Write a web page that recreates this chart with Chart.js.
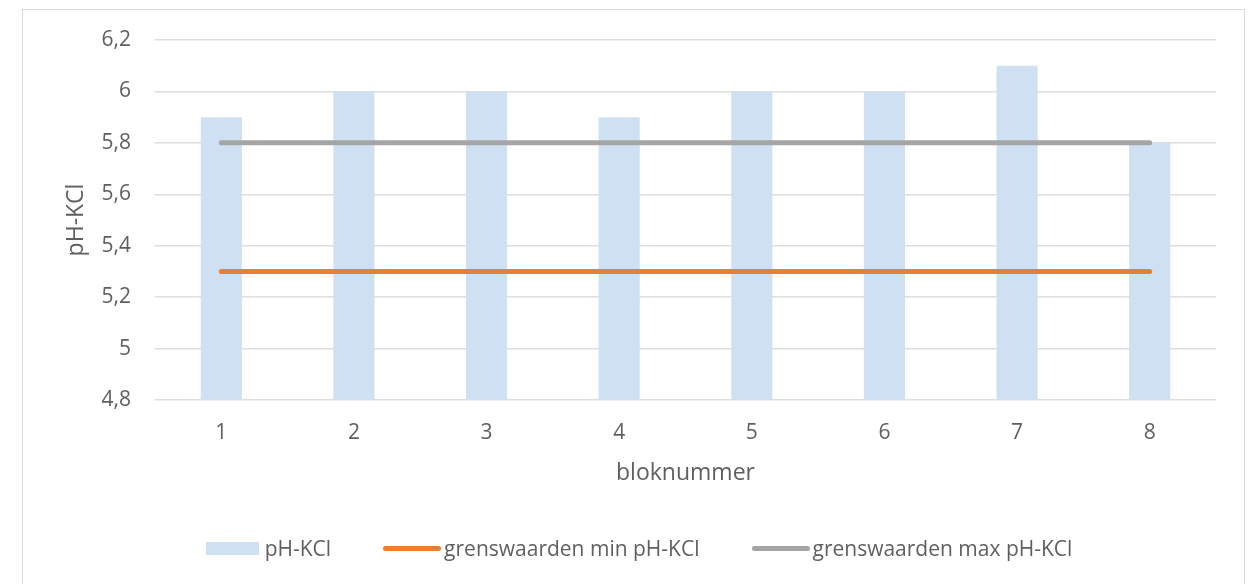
<!DOCTYPE html>
<html lang="nl">
<head>
<meta charset="utf-8">
<title>pH-KCl per bloknummer</title>
<script src="https://cdn.jsdelivr.net/npm/chart.js@4.4.1/dist/chart.umd.min.js"></script>
<style>
  html, body { margin: 0; padding: 0; background: #fff; overflow: hidden; }
  #wrap { position: relative; width: 1248px; height: 584px; }
  #frame {
    position: absolute; left: 22px; top: 9px; width: 1223px; height: 600px;
    border: 1px solid #d9d9d9; box-sizing: border-box;
  }
  #chart { position: absolute; left: 0; top: 0; }
  #legend {
    position: absolute; left: 22px; width: 1234px; top: 535px; height: 26px;
    display: flex; justify-content: center; align-items: center; gap: 52px;
    font-family: "Open Sans", sans-serif; font-size: 21px; color: #5f5f5f;
  }
  .item { display: flex; align-items: center; white-space: nowrap; }
  .swatch-box { width: 53px; height: 13px; margin-right: 6px; }
  .swatch-line { width: 58px; height: 5px; border-radius: 3px; margin-right: 3px; }
</style>
</head>
<body>
<div id="wrap">
  <div id="frame"></div>
  <canvas id="chart" width="1248" height="584"></canvas>
  <div id="legend"></div>
</div>
<script>
// Gemeten pH-KCl per blok en de grenswaarden
const bloknummers = ['1', '2', '3', '4', '5', '6', '7', '8'];
const phKcl = [5.9, 6.0, 6.0, 5.9, 6.0, 6.0, 6.1, 5.8];
const grensMin = [5.3, 5.3, 5.3, 5.3, 5.3, 5.3, 5.3, 5.3];
const grensMax = [5.8, 5.8, 5.8, 5.8, 5.8, 5.8, 5.8, 5.8];
const yTicks = [4.8, 5.0, 5.2, 5.4, 5.6, 5.8, 6.0, 6.2];

const seriesNames = ['pH-KCl', 'grenswaarden min pH-KCl', 'grenswaarden max pH-KCl'];
const colors = { bar: '#cfe0f2', min: '#ed7d31', max: '#a5a5a5' };
const textColor = '#5f5f5f';

Chart.defaults.font.family = '"Open Sans", sans-serif';
Chart.defaults.color = textColor;

const fmt = v => (Math.round(v * 10) / 10).toString().replace('.', ',');

const chart = new Chart(document.getElementById('chart'), {
  data: {
    labels: bloknummers,
    datasets: [
      {
        type: 'line', label: seriesNames[2], data: grensMax,
        borderColor: colors.max, backgroundColor: colors.max,
        borderWidth: 5, borderCapStyle: 'round', pointRadius: 0, order: 1
      },
      {
        type: 'line', label: seriesNames[1], data: grensMin,
        borderColor: colors.min, backgroundColor: colors.min,
        borderWidth: 5, borderCapStyle: 'round', pointRadius: 0, order: 2
      },
      {
        type: 'bar', label: seriesNames[0], data: phKcl,
        backgroundColor: colors.bar, borderWidth: 0,
        categoryPercentage: 1, barPercentage: 0.31, order: 3
      }
    ]
  },
  options: {
    responsive: false,
    animation: false,
    layout: { padding: { left: 22, right: 32, top: 40, bottom: 84 } },
    plugins: { legend: { display: false }, tooltip: { enabled: false } },
    scales: {
      x: {
        grid: { display: false, drawTicks: false },
        border: { display: false },
        ticks: { padding: 20, font: { size: 21 }, color: textColor },
        title: {
          display: true, text: 'bloknummer', color: textColor,
          font: { size: 23 }, padding: { top: 0, bottom: 13 }
        },
        afterFit: s => { s.height = 100; }
      },
      y: {
        min: yTicks[0], max: yTicks[yTicks.length - 1],
        afterBuildTicks: s => { s.ticks = yTicks.map(v => ({ value: v })); },
        grid: { color: '#dedede', lineWidth: 1.5, drawTicks: false },
        border: { display: false },
        ticks: { padding: 24, font: { size: 21 }, color: textColor, callback: v => fmt(v) },
        title: {
          display: true, text: 'pH-KCl', color: textColor,
          font: { size: 23 }, padding: { top: 41, bottom: 0 }
        },
        afterFit: s => { s.width = 133; }
      }
    }
  }
});

// Legenda onder de grafiek, in dezelfde volgorde als in Excel
const legend = document.getElementById('legend');
const legendOrder = [
  { name: seriesNames[0], color: colors.bar, kind: 'box' },
  { name: seriesNames[1], color: colors.min, kind: 'line' },
  { name: seriesNames[2], color: colors.max, kind: 'line' }
];
legendOrder.forEach(it => {
  const el = document.createElement('div');
  el.className = 'item';
  const sw = document.createElement('span');
  sw.className = it.kind === 'box' ? 'swatch-box' : 'swatch-line';
  sw.style.background = it.color;
  const tx = document.createElement('span');
  tx.textContent = it.name;
  el.appendChild(sw);
  el.appendChild(tx);
  legend.appendChild(el);
});
</script>
</body>
</html>
